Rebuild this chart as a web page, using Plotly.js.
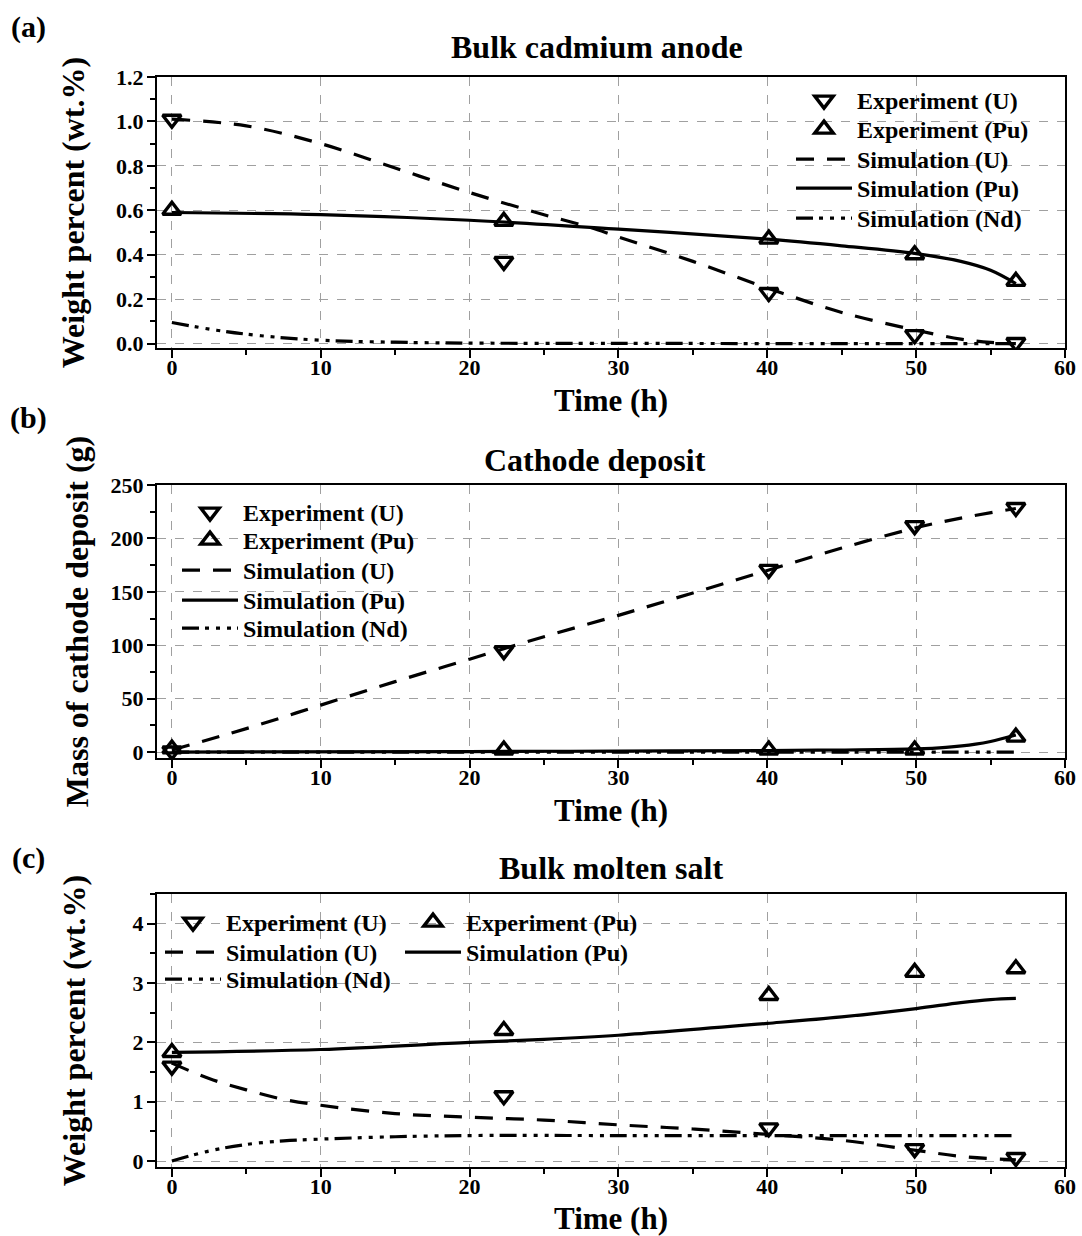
<!DOCTYPE html>
<html>
<head>
<meta charset="utf-8">
<script src="https://cdn.plot.ly/plotly-3.0.1.min.js"></script>
<style>html,body{margin:0;padding:0;background:#fff;}#chart{width:1082px;height:1236px;}</style>
</head>
<body>
<div id="chart"></div>
<script>
// ---------- data ----------
const timeExp = [0, 22.3, 40.1, 49.9, 56.7];

// (a) Bulk cadmium anode (wt.%)
const aExpU  = [1.01, 0.37, 0.23, 0.04, 0.005];
const aExpPu = [0.60, 0.55, 0.47, 0.40, 0.28];
const aSimUt = [0, 5, 10, 15, 20, 25, 28, 30, 35, 40, 45, 50, 53, 55, 56.7];
const aSimU  = [1.01, 0.98, 0.90, 0.79, 0.68, 0.58, 0.525, 0.48, 0.37, 0.25, 0.14, 0.06, 0.02, 0.005, 0.0];
const aSimPut = [0, 10, 20, 30, 40, 45, 50, 53, 55, 56.7];
const aSimPu  = [0.59, 0.58, 0.555, 0.515, 0.47, 0.44, 0.405, 0.37, 0.33, 0.27];
const aSimNdt = [0, 3, 6, 10, 15, 20, 30, 40, 50, 56.7];
const aSimNd  = [0.095, 0.06, 0.035, 0.015, 0.006, 0.002, 0.001, 0, 0, 0];

// (b) Cathode deposit (g)
const bExpU  = [1, 95, 171, 212, 229];
const bExpPu = [3, 2, 2, 2, 14];
const bSimUt = [0, 5, 10, 15, 20, 25, 30, 35, 40, 45, 50, 53, 56.7];
const bSimU  = [2, 22, 44, 66, 87, 108, 128, 149, 170, 191, 210, 219, 228];
const bSimPut = [0, 20, 30, 40, 45, 50, 52, 54, 55, 56.7];
const bSimPu  = [0, 0.5, 1, 1.5, 2, 3, 4.5, 7.5, 10, 16];
const bSimNdt = [0, 20, 40, 56.7];
const bSimNd  = [0, 0, 0, 0];

// (c) Bulk molten salt (wt.%)
const cExpU  = [1.6, 1.1, 0.56, 0.21, 0.06];
const cExpPu = [1.83, 2.2, 2.79, 3.18, 3.24];
const cSimUt = [0, 2.5, 5, 7.5, 10, 15, 20, 25, 30, 35, 40, 45, 50, 53, 56.7];
const cSimU  = [1.65, 1.39, 1.2, 1.04, 0.94, 0.8, 0.74, 0.69, 0.61, 0.54, 0.45, 0.35, 0.18, 0.08, 0.02];
const cSimPut = [0, 10, 20, 25, 30, 40, 45, 50, 53, 55, 56.7];
const cSimPu  = [1.83, 1.88, 2.0, 2.05, 2.12, 2.32, 2.43, 2.57, 2.67, 2.72, 2.74];
const cSimNdt = [0, 2.5, 5, 7.5, 10, 15, 20, 30, 40, 50, 56.7];
const cSimNd  = [0, 0.17, 0.28, 0.34, 0.37, 0.41, 0.43, 0.43, 0.43, 0.43, 0.43];

const panelTitles = ['Bulk cadmium anode', 'Cathode deposit', 'Bulk molten salt'];
const panelLabels = ['(a)', '(b)', '(c)'];
const yTitles = ['Weight percent (wt.%)', 'Mass of cathode deposit (g)', 'Weight percent (wt.%)'];
const xTitle = 'Time (h)';
const names = ['Experiment (U)', 'Experiment (Pu)', 'Simulation (U)', 'Simulation (Pu)', 'Simulation (Nd)'];

// ---------- styling ----------
const FONT = 'Liberation Serif, Times New Roman, serif';
const H = 1236;
const py = p => 1 - p / H;           // pixel y -> paper y (margins t=b=0)
const px = p => (p - 157) / 908;     // pixel x -> paper x
const dashU = '18px,13px';
const dashNd = '17px,6px,4px,7px,4px,7px,4px,6px';
const ITEMW = 56;

// legend entry placement (text left x, row centre y), one legend per entry
const legPos = [
  [[857, 100], [857, 129], [857, 159], [857, 188], [857, 218]],
  [[243, 512], [243, 540], [243, 570], [243, 600], [243, 628]],
  [[226, 922], [466, 922], [226, 952], [466, 952], [226, 979]]
];
// white boxes hiding grid behind legends [x0, y0, x1, y1] in px
const legBoxes = [[788, 86, 1024, 233], [176, 497, 418, 643], [158, 907, 640, 994]];

const tickFont = {family: FONT, size: 22, color: '#000', weight: 'bold'};
const titleFont = {family: FONT, size: 32, color: '#000', weight: 'bold'};
const xTitleFont = {family: FONT, size: 31, color: '#000', weight: 'bold'};
const labelFont = {family: FONT, size: 30, color: '#000', weight: 'bold'};
const legFont = {family: FONT, size: 24, color: '#000', weight: 'bold'};

const layout = {
  width: 1082, height: 1236,
  margin: {l: 157, r: 17, t: 0, b: 0},
  paper_bgcolor: '#fff', plot_bgcolor: '#fff',
  font: {family: FONT, color: '#000'},
  showlegend: true,
  shapes: [],
  annotations: []
};

let traces = [];
let legCount = 0;

function panel(idx, d) {
  const xa = idx === 0 ? 'x' : 'x' + (idx + 1);
  const ya = idx === 0 ? 'y' : 'y' + (idx + 1);
  const mk = (sym) => ({symbol: sym, size: 16, color: '#000', line: {color: '#000', width: 3.4}});
  const tr = [
    {x: timeExp, y: d.expU, name: names[0], mode: 'markers', marker: mk('triangle-down-open')},
    {x: timeExp, y: d.expPu, name: names[1], mode: 'markers', marker: mk('triangle-up-open')},
    {x: d.simUt, y: d.simU, name: names[2], mode: 'lines', line: {color: '#000', width: 3.2, dash: dashU, shape: 'spline'}},
    {x: d.simPut, y: d.simPu, name: names[3], mode: 'lines', line: {color: '#000', width: 3.2, shape: 'spline'}},
    {x: d.simNdt, y: d.simNd, name: names[4], mode: 'lines', line: {color: '#000', width: 3.2, dash: dashNd, shape: 'spline'}}
  ];
  tr.forEach((t, k) => {
    legCount++;
    const key = legCount === 1 ? 'legend' : 'legend' + legCount;
    t.xaxis = xa; t.yaxis = ya; t.legend = key;
    const [tx, ty] = legPos[idx][k];
    layout[key] = {
      font: legFont, bgcolor: 'rgba(0,0,0,0)', borderwidth: 0,
      xanchor: 'left', yanchor: 'top', itemwidth: ITEMW,
      x: px(tx - ITEMW - 10), y: py(ty - 22)
    };
    traces.push(t);
  });
  const b = legBoxes[idx];
  layout.shapes.push({type: 'rect', xref: 'paper', yref: 'paper', x0: px(b[0]), x1: px(b[2]), y0: py(b[3]), y1: py(b[1]),
    fillcolor: '#fff', line: {width: 0}, layer: 'between'});
}

panel(0, {expU: aExpU, expPu: aExpPu, simUt: aSimUt, simU: aSimU, simPut: aSimPut, simPu: aSimPu, simNdt: aSimNdt, simNd: aSimNd});
panel(1, {expU: bExpU, expPu: bExpPu, simUt: bSimUt, simU: bSimU, simPut: bSimPut, simPu: bSimPu, simNdt: bSimNdt, simNd: bSimNd});
panel(2, {expU: cExpU, expPu: cExpPu, simUt: cSimUt, simU: cSimU, simPut: cSimPut, simPu: cSimPu, simNdt: cSimNdt, simNd: cSimNd});

function xaxis(anchor) {
  return {
    anchor: anchor, range: [-1, 60], dtick: 10, tick0: 0,
    showline: true, linecolor: '#000', linewidth: 2, mirror: true,
    ticks: 'outside', ticklen: 8, tickwidth: 2, tickcolor: '#000', ticklabelstandoff: -9,
    minor: {dtick: 5, ticks: 'outside', ticklen: 5, tickwidth: 2, tickcolor: '#000', showgrid: false},
    showgrid: true, gridcolor: '#a0a0a0', griddash: 'dash', gridwidth: 1,
    zeroline: false, tickfont: tickFont,
    title: {text: xTitle, font: xTitleFont, standoff: 10}
  };
}
function yaxis(anchor, domain, range, dtick, minorDtick, fmt, title, standoff) {
  return {
    anchor: anchor, domain: domain, range: range, dtick: dtick, tick0: 0, tickformat: fmt,
    showline: true, linecolor: '#000', linewidth: 2, mirror: true,
    ticks: 'outside', ticklen: 8, tickwidth: 2, tickcolor: '#000', ticklabelstandoff: -1,
    minor: {dtick: minorDtick, ticks: 'outside', ticklen: 5, tickwidth: 2, tickcolor: '#000', showgrid: false},
    showgrid: true, gridcolor: '#a0a0a0', griddash: 'dash', gridwidth: 1,
    zeroline: false, tickfont: tickFont,
    title: {text: title, font: titleFont, standoff: standoff}
  };
}

layout.xaxis = xaxis('y');
layout.yaxis = yaxis('x', [py(348), py(77)], [-0.02, 1.2], 0.2, 0.1, '.1f', yTitles[0], 22);
layout.xaxis2 = xaxis('y2');
layout.yaxis2 = yaxis('x2', [py(758), py(485)], [-5.5, 250], 50, 25, '', yTitles[1], 12);
layout.xaxis3 = xaxis('y3');
layout.yaxis3 = yaxis('x3', [py(1167), py(894)], [-0.1, 4.5], 1, 0.5, '', yTitles[2], 37);

const ann = [
  [panelLabels[0], 28, 27, labelFont], [panelLabels[1], 28, 418, labelFont], [panelLabels[2], 28, 858, labelFont],
  [panelTitles[0], 597, 47, titleFont], [panelTitles[1], 595, 460, titleFont], [panelTitles[2], 611, 868, titleFont]
];
layout.annotations = ann.map(a => ({text: a[0], xref: 'paper', yref: 'paper', x: px(a[1]), y: py(a[2]),
  xanchor: 'center', yanchor: 'middle', showarrow: false, font: a[3]}));

Plotly.newPlot('chart', traces, layout, {staticPlot: true, displayModeBar: false});
</script>
</body>
</html>
